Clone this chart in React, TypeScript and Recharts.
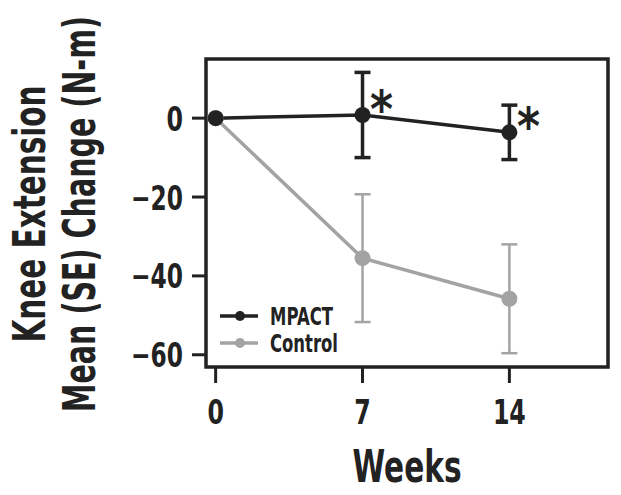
import { LineChart, Line, XAxis, YAxis, ErrorBar, ReferenceArea, LabelList } from "recharts";

const FONT = "'DejaVu Sans', sans-serif";
const INK = "#222222";
const GREY = "#a3a3a3";

const weeks = [0, 7, 14];
const mpactMean = [0, 0.8, -3.6];
const mpactSe = [0, 10.8, 6.9];
const controlMean = [0, -35.5, -45.8];
const controlSe = [0, 16.2, 13.8];
const mpactSig = ["", "*", "*"];

const xTicks = [0, 7, 14];
const yTicks = [0, -20, -40, -60];
const xDomain: [number, number] = [-0.46, 18.7];
const yDomain: [number, number] = [-63.1, 15];

const data = weeks.map((w, i) => ({
  week: w,
  mpact: mpactMean[i], mpactErr: mpactSe[i],
  control: controlMean[i], controlErr: controlSe[i],
  sig: mpactSig[i],
}));

const series = [
  { name: "MPACT", color: INK, w: 63 },
  { name: "Control", color: GREY, w: 68 },
];

const fmtY = (v: number) => (v < 0 ? "\u2212" + Math.abs(v) : String(v));

// condensed look: squeeze DejaVu Bold to the reference widths
const T = ({ len, ...rest }: any) => (
  <text fontFamily={FONT} fontWeight={700} fill={INK} textLength={len} lengthAdjust="spacingAndGlyphs" {...rest} />
);

const XTick = (props: any) => {
  const { x, y, payload } = props;
  const s = String(payload.value);
  return <T x={x} y={y + 25} textAnchor="middle" fontSize={34} len={s.length * 16.5}>{s}</T>;
};

const YTick = (props: any) => {
  const { x, y, payload } = props;
  const s = fmtY(payload.value);
  const len = s.replace("\u2212", "").length * 16.5 + (s.startsWith("\u2212") ? 19 : 0);
  return <T x={x} y={y + 12.5} textAnchor="end" fontSize={34} len={len}>{s}</T>;
};

const Star = (props: any) => {
  const { x, y, value } = props;
  if (!value) return null;
  return <T x={x + 19} y={y + 12} textAnchor="middle" fontSize={52} len={23}>{value}</T>;
};

// rotated titles: scale along the text direction, textLength fixes the exact span
const SQ = 0.65;
const YLabel = () => (
  <g>
    <T transform={`translate(45,214) rotate(-90) scale(${SQ},1)`} textAnchor="middle" fontSize={44} len={257 / SQ}>Knee Extension</T>
    <T transform={`translate(95,214) rotate(-90) scale(${SQ},1)`} textAnchor="middle" fontSize={44} len={396 / SQ}>Mean (SE) Change (N-m)</T>
  </g>
);

const XLabel = () => (
  <g>
    <T x={407} y={482} textAnchor="middle" fontSize={44} len={109}>Weeks</T>
    {series.map((s, i) => (
      <g key={s.name}>
        <line x1={220} y1={316 + i * 27} x2={258} y2={316 + i * 27} stroke={s.color} strokeWidth={3.5} />
        <circle cx={240} cy={316 + i * 27} r={5} fill={s.color} />
        <T x={270} y={325 + i * 27} fontSize={25} len={s.w}>{s.name}</T>
      </g>
    ))}
  </g>
);

export default function App() {
  return (
    <div style={{ position: "absolute", left: 0, top: 0, background: "#fff" }}>
      <LineChart width={621} height={495} data={data} margin={{ top: 59, right: 13, bottom: 0, left: 0 }}>
        <XAxis dataKey="week" type="number" domain={xDomain} ticks={xTicks} allowDataOverflow
          height={128} axisLine={false} tickSize={16} tickMargin={16}
          tickLine={{ stroke: INK, strokeWidth: 3 }} tick={<XTick />} label={{ content: () => <XLabel /> }} />
        <YAxis type="number" domain={yDomain} ticks={yTicks} allowDataOverflow width={206}
          axisLine={false} tickSize={14} tickMargin={9}
          tickLine={{ stroke: INK, strokeWidth: 3 }} tick={<YTick />} label={{ content: () => <YLabel /> }} />
        <ReferenceArea x1={xDomain[0]} x2={xDomain[1]} y1={yDomain[0]} y2={yDomain[1]}
          fill="none" stroke={INK} strokeWidth={3.5} fillOpacity={0} ifOverflow="visible" />
        <Line dataKey="control" name="Control" type="linear" stroke={GREY} strokeWidth={3.5}
          dot={{ r: 8, fill: GREY, stroke: GREY, strokeWidth: 0 }} isAnimationActive={false}>
          <ErrorBar dataKey="controlErr" width={8} stroke={GREY} strokeWidth={2.5} direction="y" />
        </Line>
        <Line dataKey="mpact" name="MPACT" type="linear" stroke={INK} strokeWidth={3.5}
          dot={{ r: 8, fill: INK, stroke: INK, strokeWidth: 0 }} isAnimationActive={false}>
          <ErrorBar dataKey="mpactErr" width={8} stroke={INK} strokeWidth={3.5} direction="y" />
          <LabelList dataKey="sig" content={<Star />} />
        </Line>
      </LineChart>
    </div>
  );
}
